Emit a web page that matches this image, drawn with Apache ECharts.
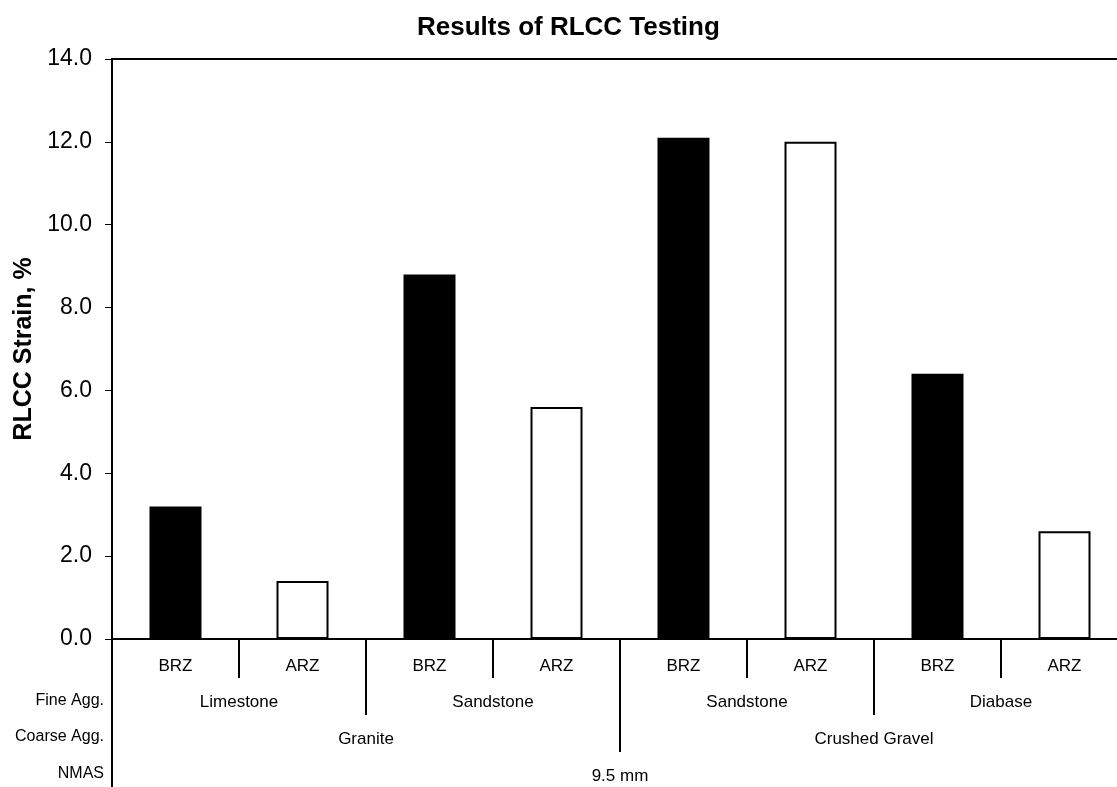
<!DOCTYPE html>
<html>
<head>
<meta charset="utf-8">
<style>
  html, body { margin: 0; padding: 0; background: #fff; }
  #chart { width: 1117px; height: 787px; }
</style>
<script src="https://cdn.jsdelivr.net/npm/echarts@6/dist/echarts.min.js"></script>
</head>
<body>
<div id="chart"></div>
<script>
// ---- data ----
const categories = ['BRZ', 'ARZ', 'BRZ', 'ARZ', 'BRZ', 'ARZ', 'BRZ', 'ARZ'];
const fineAgg = ['Limestone', 'Sandstone', 'Sandstone', 'Diabase'];
const coarseAgg = ['Granite', 'Crushed Gravel'];
const nmas = ['9.5 mm'];
const rowLabels = ['Fine Agg.', 'Coarse Agg.', 'NMAS'];
const strain = [3.2, 1.4, 8.8, 5.6, 12.1, 12.0, 6.4, 2.6];
const yTicks = [0, 2, 4, 6, 8, 10, 12, 14];

// ---- styles ----
const FONT = '"Liberation Sans", Arial, sans-serif';
const barStyles = {
  BRZ: { color: '#000000', borderColor: '#000000', borderWidth: 0 },
  ARZ: { color: '#ffffff', borderColor: '#000000', borderWidth: 2 }
};

const chart = echarts.init(document.getElementById('chart'), null, { renderer: 'canvas' });

function levelAxis(data, tickLen, labelMargin, showLine) {
  return {
    type: 'category',
    data: data,
    position: 'bottom',
    gridIndex: 0,
    boundaryGap: true,
    axisLine: { show: showLine, onZero: false, lineStyle: { color: '#000', width: 2 } },
    axisTick: { show: true, interval: 0, length: tickLen, lineStyle: { color: '#000', width: 2 } },
    axisLabel: { interval: 0, margin: labelMargin, color: '#000', fontFamily: FONT, fontSize: 17 },
    splitLine: { show: false }
  };
}

const rowY = [701, 737, 774];

const option = {
  backgroundColor: '#ffffff',
  animation: false,
  title: {
    text: 'Results of RLCC Testing',
    left: 412,
    top: 10,
    textStyle: { fontFamily: FONT, fontSize: 26, fontWeight: 'bold', color: '#000' }
  },
  grid: {
    left: 112, top: 59, width: 1016, height: 580,
    outerBoundsMode: 'none',
    containLabel: false,
    show: true, borderColor: '#000', borderWidth: 2, backgroundColor: 'transparent'
  },
  xAxis: [
    levelAxis(categories, 39, 19, true),
    levelAxis(fineAgg, 76, 55, false),
    levelAxis(coarseAgg, 113, 92, false),
    levelAxis(nmas, 148, 129, false)
  ],
  yAxis: {
    type: 'value',
    min: yTicks[0],
    max: yTicks[yTicks.length - 1],
    interval: 2,
    name: 'RLCC Strain, %',
    nameLocation: 'middle',
    nameGap: 72,
    nameTextStyle: { fontFamily: FONT, fontSize: 25, fontWeight: 'bold', color: '#000' },
    axisLine: { show: true, lineStyle: { color: '#000', width: 2 } },
    axisTick: { show: true, length: 7, lineStyle: { color: '#000', width: 1 } },
    axisLabel: {
      margin: 20, color: '#000', fontFamily: FONT, fontSize: 23,
      formatter: v => v.toFixed(1)
    },
    splitLine: { show: false }
  },
  series: [{
    type: 'bar',
    xAxisIndex: 0,
    barWidth: 52,
    data: strain.map((v, i) => ({ value: v, itemStyle: barStyles[categories[i]] }))
  }],
  graphic: rowLabels.map((t, i) => ({
    type: 'text',
    x: 104,
    y: rowY[i],
    style: {
      text: t,
      align: 'right',
      verticalAlign: 'middle',
      fill: '#000',
      font: '16px ' + FONT
    }
  }))
};

chart.setOption(option);
</script>
</body>
</html>
